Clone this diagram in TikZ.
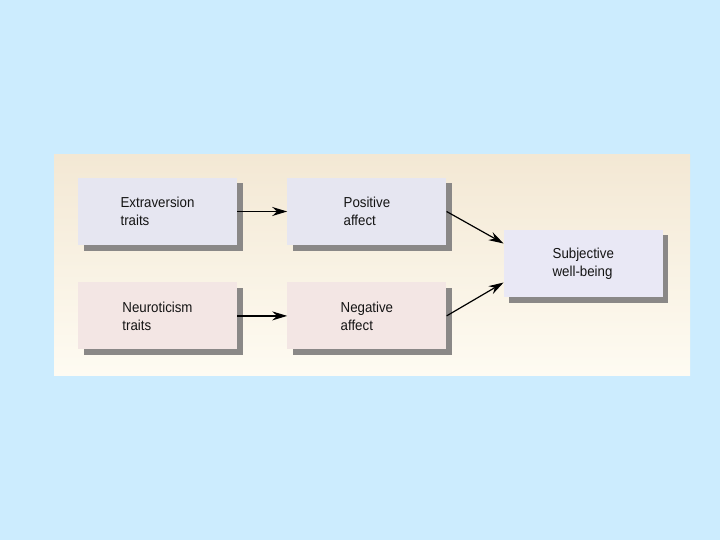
\documentclass[tikz,border=0pt]{standalone}
\usepackage{fontspec}
\setmainfont{Liberation Sans}[FakeStretch=0.92]
\usetikzlibrary{arrows.meta,positioning,shadows}
\definecolor{slideblue}{HTML}{CCECFE}
\definecolor{paneltop}{HTML}{F3E8D4}
\definecolor{panelbot}{HTML}{FEFBF2}
\definecolor{traitblue}{HTML}{E6E6F1}
\definecolor{traitpink}{HTML}{F3E6E4}
\definecolor{swbfill}{HTML}{E9E8F5}
\definecolor{shadowgray}{HTML}{8A8887}
\begin{document}
\begin{tikzpicture}[
  x=1bp, y=-1bp,
  >=Stealth,
  node distance = 37bp and 50bp,
  box/.style   = {rectangle, minimum width=159bp, minimum height=67bp,
                  align=left, text=black!92,
                  font=\fontsize{14.5}{18}\selectfont,
                  drop shadow={shadow xshift=5.5bp, shadow yshift=-5.5bp,
                               opacity=1, fill=shadowgray}},
  pbox/.style  = {box, fill=traitblue},
  nbox/.style  = {box, fill=traitpink},
  arr/.style   = {-{Stealth[length=15bp, width=9bp]}, line width=1.2bp, draw=black}
]

%%% ---- BACKGROUND ----
\fill[slideblue] (0,0) rectangle (720,540);
\useasboundingbox (0,0) rectangle (720,540);
\shade[top color=paneltop, bottom color=panelbot] (54,155) rectangle (690,375);

%%% ---- TRAITS AND AFFECT ----
\node[pbox] at (157.5,211.5)  (extra) {Extraversion\\traits};
\node[pbox, right=of extra]   (posaff) {Positive\\affect};
\node[nbox, below=of extra]   (neuro) {Neuroticism\\traits};
\node[nbox, below=of posaff]  (negaff) {Negative\\affect};

%%% ---- OUTCOME ----
\node[box, fill=swbfill, right=57bp of posaff, yshift=-52bp] (swb) {Subjective\\well-being};

%%% ---- CONNECT ----
\draw[arr] (extra)  -- (posaff);
\draw[arr] (neuro)  -- (negaff);
\draw[arr] (posaff.east) -- ([yshift=20bp]swb.west);
\draw[arr] (negaff.east) -- ([yshift=-19bp]swb.west);
\end{tikzpicture}
\end{document}
